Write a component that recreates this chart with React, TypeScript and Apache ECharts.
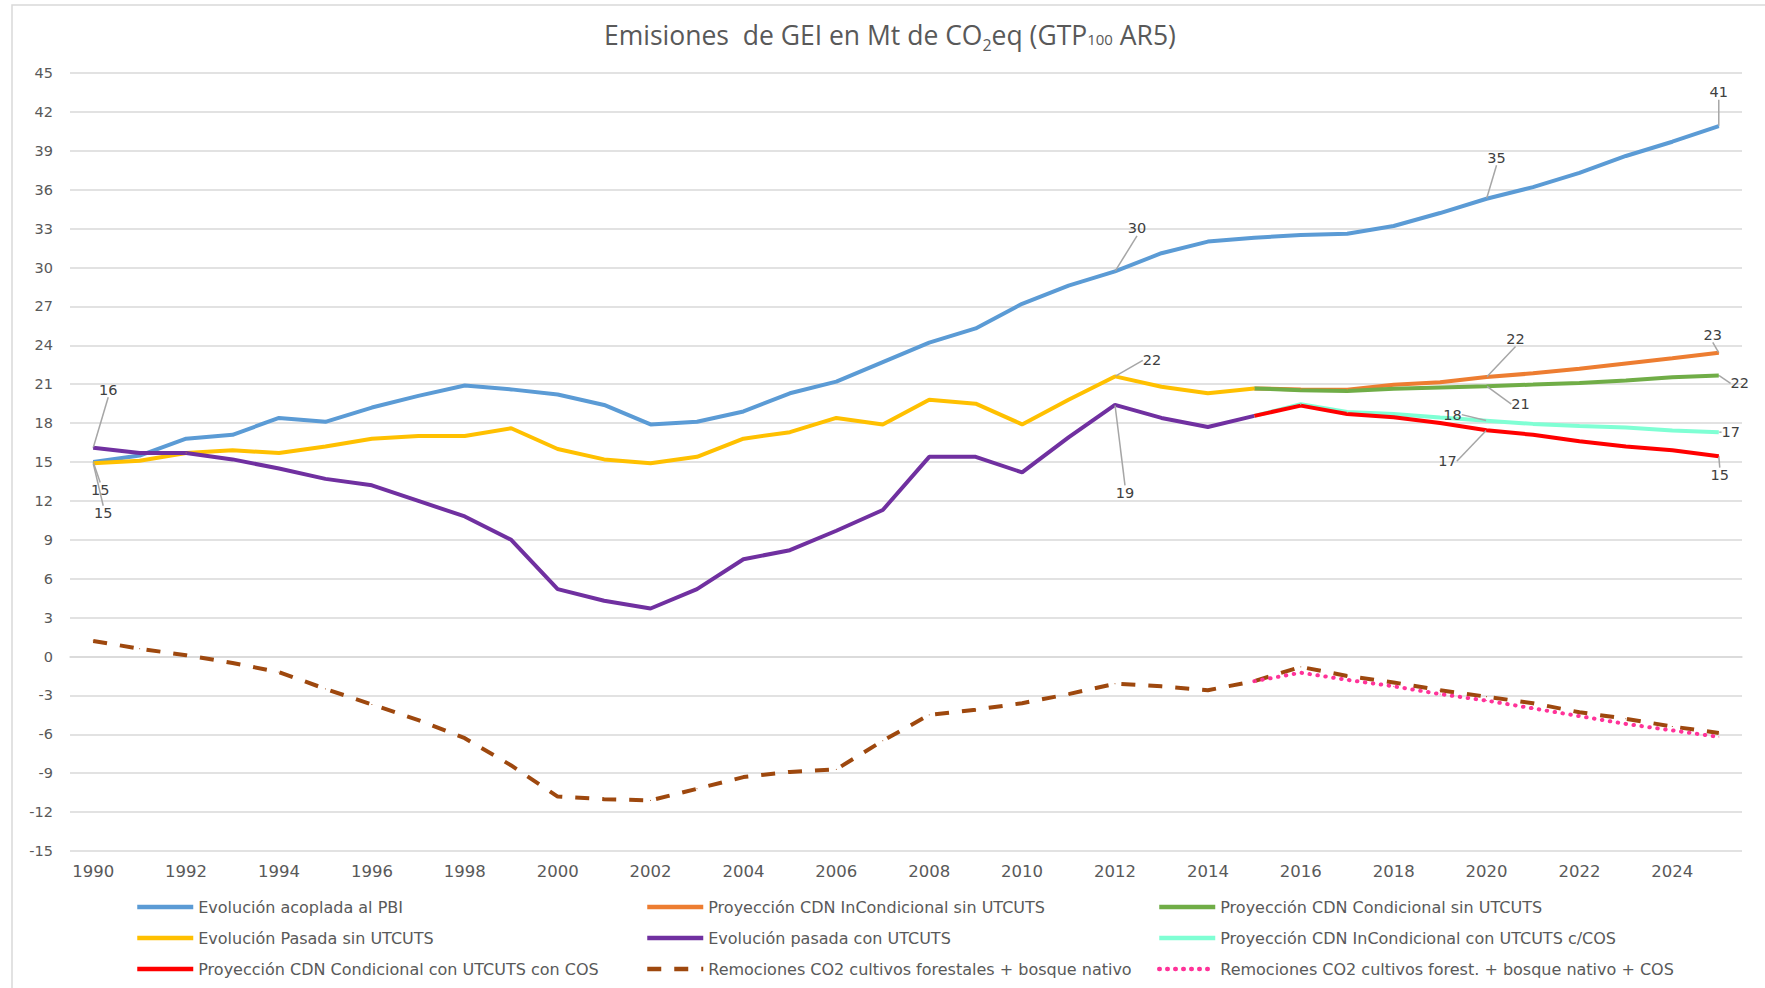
import React, { useEffect, useRef } from "react";
import * as echarts from "echarts";

const years = [
  "1990", "1991", "1992", "1993", "1994", "1995", "1996", "1997", "1998", "1999",
  "2000", "2001", "2002", "2003", "2004", "2005", "2006", "2007", "2008", "2009",
  "2010", "2011", "2012", "2013", "2014", "2015", "2016", "2017", "2018", "2019",
  "2020", "2021", "2022", "2023", "2024", "2025",
];

// 1990-2025
const acopladaPBI = [15.0, 15.5, 16.8, 17.1, 18.4, 18.1, 19.2, 20.1, 20.9, 20.6, 20.2, 19.4, 17.9, 18.1, 18.9, 20.3, 21.2, 22.7, 24.2, 25.3, 27.2, 28.6, 29.7, 31.1, 32.0, 32.3, 32.5, 32.6, 33.2, 34.2, 35.3, 36.2, 37.3, 38.6, 39.7, 40.9];
// 1990-2015
const pasadaSinUTCUTS = [14.9, 15.1, 15.7, 15.9, 15.7, 16.2, 16.8, 17.0, 17.0, 17.6, 16.0, 15.2, 14.9, 15.4, 16.8, 17.3, 18.4, 17.9, 19.8, 19.5, 17.9, 19.8, 21.6, 20.8, 20.3, 20.67];
const pasadaConUTCUTS = [16.1, 15.7, 15.7, 15.2, 14.5, 13.7, 13.2, 12.0, 10.8, 9.0, 5.2, 4.3, 3.7, 5.2, 7.5, 8.2, 9.7, 11.3, 15.4, 15.4, 14.2, 16.9, 19.4, 18.4, 17.7, 18.56];
// 2015-2025
const incondSinUTCUTS = [20.67, 20.6, 20.57, 20.95, 21.15, 21.55, 21.84, 22.2, 22.6, 23.0, 23.42];
const condSinUTCUTS = [20.67, 20.54, 20.47, 20.65, 20.75, 20.85, 20.97, 21.1, 21.28, 21.53, 21.68];
const incondConUTCUTS = [18.56, 19.45, 18.85, 18.7, 18.44, 18.19, 17.94, 17.78, 17.66, 17.43, 17.3];
const condConUTCUTS = [18.56, 19.35, 18.7, 18.45, 18.0, 17.45, 17.1, 16.6, 16.2, 15.9, 15.45];
// 1990-2025
const remociones = [1.2, 0.6, 0.1, -0.5, -1.2, -2.5, -3.7, -4.9, -6.3, -8.4, -10.8, -11.0, -11.1, -10.2, -9.3, -8.9, -8.7, -6.5, -4.5, -4.1, -3.6, -2.9, -2.1, -2.3, -2.6, -1.9, -0.8, -1.5, -2.0, -2.6, -3.1, -3.6, -4.3, -4.8, -5.4, -5.9];
// 2015-2025
const remocionesCOS = [-1.9, -1.25, -1.8, -2.3, -2.9, -3.4, -4.0, -4.6, -5.2, -5.7, -6.2];

const yTicks = { min: -15, max: 45, interval: 3 };

const names = {
  pbi: "Evolución acoplada al PBI",
  incSin: "Proyección CDN InCondicional sin UTCUTS",
  condSin: "Proyección CDN Condicional sin UTCUTS",
  pasSin: "Evolución Pasada sin UTCUTS",
  pasCon: "Evolución pasada con UTCUTS",
  incCon: "Proyección CDN InCondicional con UTCUTS c/COS",
  condCon: "Proyección CDN Condicional con UTCUTS con COS",
  rem: "Remociones CO2 cultivos forestales + bosque nativo",
  remCos: "Remociones CO2 cultivos forest. + bosque nativo + COS",
};

// label placements (pixel offsets from point)
const annotations: { key: string; year: string; dx: number; dy: number }[] = [
  { key: "pbi", year: "1990", dx: 7, dy: 28 },
  { key: "pasSin", year: "1990", dx: 10, dy: 50 },
  { key: "pasCon", year: "1990", dx: 15, dy: -58 },
  { key: "pbi", year: "2012", dx: 22, dy: -43 },
  { key: "pbi", year: "2020", dx: 10, dy: -41 },
  { key: "pbi", year: "2025", dx: 0, dy: -34 },
  { key: "pasSin", year: "2012", dx: 37, dy: -16 },
  { key: "pasCon", year: "2012", dx: 10, dy: 88 },
  { key: "incSin", year: "2020", dx: 29, dy: -38 },
  { key: "condSin", year: "2020", dx: 34, dy: 18 },
  { key: "incSin", year: "2025", dx: -6, dy: -18 },
  { key: "condSin", year: "2025", dx: 21, dy: 8 },
  { key: "incCon", year: "2020", dx: -34, dy: -6 },
  { key: "condCon", year: "2020", dx: -39, dy: 31 },
  { key: "incCon", year: "2025", dx: 12, dy: 0 },
  { key: "condCon", year: "2025", dx: 1, dy: 19 },
];

const startIdx = (year: string) => years.indexOf(year);

function pad(values: number[], start: string): (number | null)[] {
  const out: (number | null)[] = years.map(() => null);
  const s = startIdx(start);
  values.forEach((v, i) => (out[s + i] = v));
  return out;
}

const App: React.FC = () => {
  const ref = useRef<HTMLDivElement>(null);

  useEffect(() => {
    if (!ref.current) return;
    const chart = echarts.init(ref.current, undefined, { renderer: "svg" });

    const defs = [
      { key: "pbi", values: pad(acopladaPBI, "1990"), color: "#5b9bd5", type: "solid" },
      { key: "incSin", values: pad(incondSinUTCUTS, "2015"), color: "#ed7d31", type: "solid" },
      { key: "condSin", values: pad(condSinUTCUTS, "2015"), color: "#70ad47", type: "solid" },
      { key: "pasSin", values: pad(pasadaSinUTCUTS, "1990"), color: "#ffc000", type: "solid" },
      { key: "pasCon", values: pad(pasadaConUTCUTS, "1990"), color: "#7030a0", type: "solid" },
      { key: "incCon", values: pad(incondConUTCUTS, "2015"), color: "#7fffd4", type: "solid" },
      { key: "condCon", values: pad(condConUTCUTS, "2015"), color: "#ff0000", type: "solid" },
      { key: "rem", values: pad(remociones, "1990"), color: "#9e480e", type: [14, 13] },
      { key: "remCos", values: pad(remocionesCOS, "2015"), color: "#ff3399", type: [0.5, 7.5] },
    ];

    const annLookup: Record<string, { dx: number; dy: number }> = {};
    const series = defs.map((d, si) => {
      const data = d.values.map((v, i) => {
        const a = annotations.find((x) => x.key === d.key && x.year === years[i]);
        if (a && v != null) {
          annLookup[si + "_" + i] = { dx: a.dx, dy: a.dy };
          return { value: v, label: { show: true } };
        }
        return v;
      });
      return {
        name: (names as any)[d.key],
        type: "line",
        data,
        showSymbol: true,
        showAllSymbol: true,
        symbol: "circle",
        symbolSize: 1,
        itemStyle: { color: d.color },
        lineStyle: {
          color: d.color,
          width: 4,
          type: d.type as any,
          cap: d.key === "remCos" ? "round" : "butt",
        },
        label: {
          show: false,
          formatter: (p: any) => String(Math.round(Array.isArray(p.value) ? p.value[1] : p.value)),
          fontFamily: "DejaVu Sans",
          fontSize: 14.5,
          color: "#404040",
        },
        labelLine: {
          show: true,
          lineStyle: { color: "#a6a6a6", width: 1.5 },
        },
        labelLayout: (params: any) => {
          const a = annLookup[params.seriesIndex + "_" + params.dataIndex];
          if (!a) return {};
          const cx = params.rect.x + params.rect.width / 2;
          const cy = params.rect.y + params.rect.height / 2;
          return { x: cx + a.dx, y: cy + a.dy, align: "center", verticalAlign: "middle" };
        },
        emphasis: { disabled: true },
        z: 2,
      };
    });

    const legendBase = {
      orient: "vertical",
      top: 899,
      padding: 0,
      itemWidth: 56,
      itemHeight: 14,
      itemGap: 15,
      itemStyle: { opacity: 0 },
      lineStyle: { width: 4.5 },
      textStyle: { fontFamily: "DejaVu Sans", fontSize: 16, lineHeight: 14, color: "#595959" },
      selectedMode: false,
    };

    const tStyle = { fontFamily: "Open Sans", color: "#595959", fontWeight: "normal" as const };

    chart.setOption({
      animation: false,
      backgroundColor: "#ffffff",
      title: {
        text: "{t|Emisiones  de GEI en Mt de CO}{s|2}{t|eq (GTP}{k|100}{t| AR5)}",
        left: 599,
        top: 12,
        textStyle: {
          fontWeight: "normal",
          rich: {
            t: { ...tStyle, fontSize: 26.5, lineHeight: 36, verticalAlign: "middle" },
            s: { ...tStyle, fontSize: 16, lineHeight: 36, verticalAlign: "bottom" },
            k: { ...tStyle, fontSize: 15, lineHeight: 36, verticalAlign: "middle", padding: [8, 0, 0, 0] },
          },
        },
      },
      grid: { left: 70, right: 23, top: 73, bottom: 137 },
      xAxis: {
        type: "category",
        data: years,
        boundaryGap: true,
        axisLine: { lineStyle: { color: "#d9d9d9", width: 1.5 } },
        axisTick: { show: false },
        axisLabel: {
          interval: 1,
          margin: 12,
          fontFamily: "DejaVu Sans",
          fontSize: 16.5,
          color: "#595959",
        },
      },
      yAxis: {
        type: "value",
        min: yTicks.min,
        max: yTicks.max,
        interval: yTicks.interval,
        axisLine: { show: false },
        axisTick: { show: false },
        splitLine: { lineStyle: { color: "#d9d9d9", width: 1.5 } },
        axisLabel: {
          margin: 17,
          fontFamily: "DejaVu Sans",
          fontSize: 14.5,
          color: "#595959",
        },
      },
      legend: [
        { ...legendBase, left: 135, data: [names.pbi, names.pasSin, names.condCon] },
        { ...legendBase, left: 645, data: [names.incSin, names.pasCon, names.rem] },
        { ...legendBase, left: 1157, data: [names.condSin, names.incCon, names.remCos] },
      ],
      graphic: [
        {
          type: "rect",
          silent: true,
          shape: { x: 12, y: 5, width: 1800, height: 1000 },
          style: { fill: "none", stroke: "#d9d9d9", lineWidth: 1.5 },
        },
      ],
      series,
    } as any);

    return () => chart.dispose();
  }, []);

  return (
    <div
      ref={ref}
      style={{ position: "fixed", left: 0, top: 0, width: 1765, height: 988, background: "#fff" }}
    />
  );
};

export default App;
